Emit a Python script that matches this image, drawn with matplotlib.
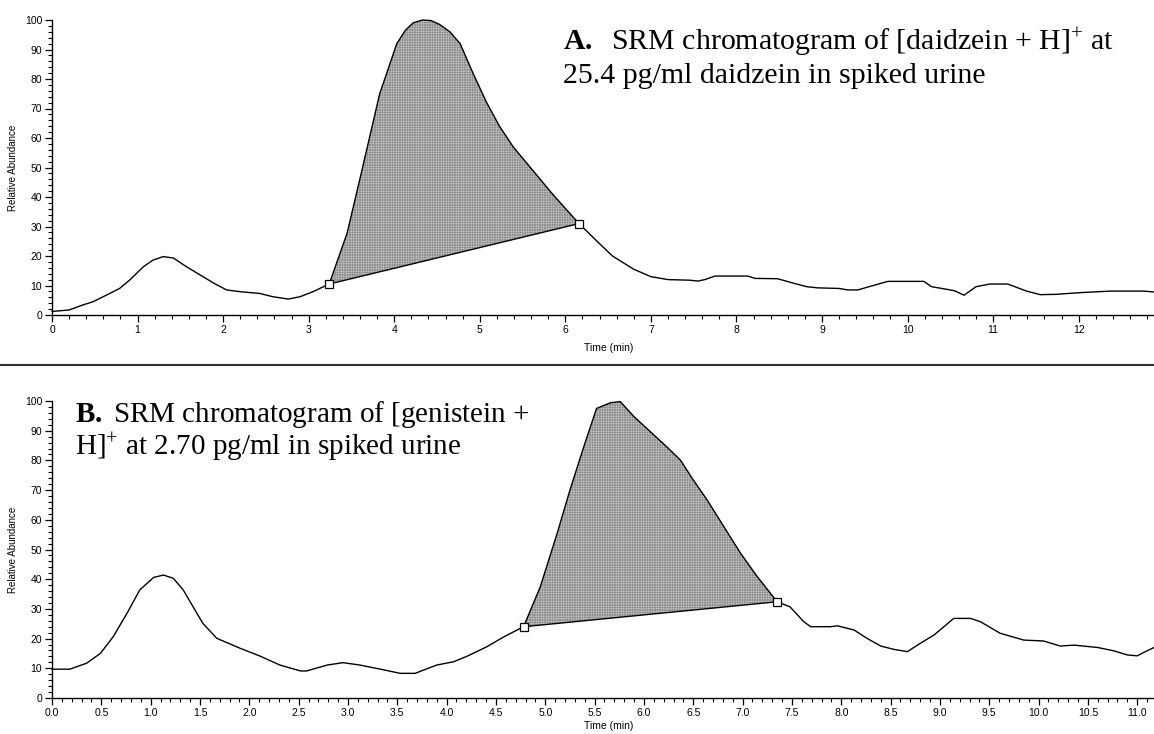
import numpy as np
import matplotlib
matplotlib.use("Agg")
import matplotlib.pyplot as plt
from matplotlib.ticker import MultipleLocator, FormatStrFormatter
from matplotlib.lines import Line2D

# ---------------- data ----------------
top_time = [0.0, 0.2, 0.36, 0.48, 0.64, 0.79, 0.91, 1.07, 1.18, 1.30, 1.42, 1.57, 1.73,
            1.89, 2.04, 2.2, 2.43, 2.58, 2.76, 2.9, 3.05, 3.24, 3.45, 3.63, 3.83, 4.03,
            4.13, 4.22, 4.33, 4.43, 4.53, 4.65, 4.77, 4.92, 5.08, 5.23, 5.39, 5.62, 5.85,
            6.05, 6.16, 6.37,
            6.55, 6.8, 7.0, 7.2, 7.45, 7.55, 7.63, 7.75, 8.13, 8.22, 8.48, 8.64, 8.82,
            8.95, 9.2, 9.3, 9.42, 9.55, 9.72, 9.77, 10.19, 10.28, 10.44, 10.55, 10.66,
            10.8, 10.96, 11.17, 11.39, 11.55, 11.73, 12.03, 12.37, 12.76, 12.88]
top_abund = [1.2, 1.7, 3.4, 4.5, 6.8, 9.0, 11.9, 16.4, 18.6, 19.8, 19.3, 16.4, 13.6,
             10.8, 8.5, 7.9, 7.3, 6.2, 5.4, 6.2, 7.9, 10.5, 27.8, 50, 75, 92,
             96.5, 99, 100, 99.8, 98.5, 96, 92, 82, 72, 64, 57, 49, 41,
             34.5, 31, 25,
             20, 15.5, 13, 12, 11.8, 11.5, 12, 13.2, 13.2, 12.4, 12.3, 11, 9.6,
             9.2, 9.0, 8.5, 8.5, 9.6, 11, 11.4, 11.4, 9.6, 8.8, 8.2, 6.7,
             9.6, 10.5, 10.5, 8.1, 6.9, 7.0, 7.6, 8.1, 8.1, 7.8]
top_peak_start = (3.24, 10.5)
top_peak_end = (6.16, 31.0)

bot_time = [0.0, 0.18, 0.35, 0.49, 0.62, 0.76, 0.89, 1.03, 1.13, 1.23, 1.33, 1.43, 1.53,
            1.67, 1.91, 2.11, 2.31, 2.52, 2.58, 2.79, 2.95, 3.12, 3.33, 3.53, 3.68, 3.9,
            4.07, 4.21, 4.41, 4.58, 4.78, 4.95, 5.12, 5.25, 5.39, 5.52, 5.66, 5.76, 5.90,
            6.1, 6.23, 6.37, 6.5, 6.64, 6.81, 6.98, 7.15, 7.35, 7.48, 7.62, 7.69, 7.89,
            7.96, 8.13, 8.26, 8.4, 8.53, 8.67, 8.8, 8.94, 9.14, 9.31, 9.41, 9.61, 9.85,
            10.05, 10.22, 10.36, 10.6, 10.76, 10.9, 11.0, 11.1, 11.17]
bot_abund = [9.7, 9.7, 11.7, 15, 20.6, 28.5, 36.4, 40.6, 41.4, 40.3, 36.4, 30.7, 25.1,
             20.1, 16.7, 14.1, 11.1, 9.1, 9.1, 11.1, 11.9, 11.1, 9.7, 8.3, 8.3, 11.1,
             12.2, 14.1, 17.3, 20.6, 24.0, 37.5, 55.4, 70, 84.6, 97.5, 99.4, 99.8, 94.7,
             88.6, 84.6, 80.1, 73.4, 66.7, 57.7, 48.7, 40.8, 32.4, 30.7, 25.7, 24, 24,
             24.3, 22.9, 20.1, 17.5, 16.4, 15.6, 18.4, 21.2, 26.8, 26.8, 25.7, 21.8, 19.5,
             19.2, 17.5, 17.8, 17, 15.9, 14.5, 14.2, 15.9, 17]
bot_peak_start = (4.78, 24.0)
bot_peak_end = (7.35, 32.4)

top_xlim = (0, 12.88)
bot_xlim = (0, 11.17)

# ---------------- style ----------------
plt.rcParams['font.family'] = ['Liberation Sans', 'DejaVu Sans']
plt.rcParams['mathtext.fontset'] = 'custom'
plt.rcParams['mathtext.rm'] = 'Liberation Serif'
plt.rcParams['mathtext.it'] = 'Liberation Serif:italic'
plt.rcParams['mathtext.bf'] = 'Liberation Serif:bold'
plt.rcParams['hatch.linewidth'] = 0.4

fig = plt.figure(figsize=(11.54, 7.34), dpi=100)
ax_top = fig.add_axes([52/1154, 1-315/734, 1-52/1154, 295/734])
ax_bot = fig.add_axes([52/1154, 1-698/734, 1-52/1154, 297/734])


def draw(ax, t, a, p0, p1, xlim, xmaj, xmin, fmt, xlab_y):
    t = np.asarray(t, float)
    a = np.asarray(a, float)
    ax.plot(t, a, color='black', lw=1.0, clip_on=False, zorder=3)
    mask = (t > p0[0]) & (t < p1[0])
    xf = np.concatenate([[p0[0]], t[mask], [p1[0]]])
    yf = np.interp(xf, t, a)
    base = np.interp(xf, [p0[0], p1[0]], [p0[1], p1[1]])
    ax.fill_between(xf, base, yf, facecolor='#d2d2d2', edgecolor='#8c8c8c',
                    hatch='+' * 10, lw=0, zorder=2)
    ax.plot([p0[0], p1[0]], [p0[1], p1[1]], color='black', lw=1.0, zorder=3)
    ax.plot([p0[0], p1[0]], [p0[1], p1[1]], ls='none', marker='s', ms=6,
            mfc='white', mec='black', mew=0.9, zorder=4)
    ax.set_xlim(*xlim)
    ax.set_ylim(0, 100)
    for s in ('top', 'right'):
        ax.spines[s].set_visible(False)
    for s in ('left', 'bottom'):
        ax.spines[s].set_linewidth(1.0)
    ax.xaxis.set_major_locator(MultipleLocator(xmaj))
    ax.xaxis.set_minor_locator(MultipleLocator(xmin))
    ax.xaxis.set_major_formatter(FormatStrFormatter(fmt))
    ax.yaxis.set_major_locator(MultipleLocator(10))
    ax.yaxis.set_minor_locator(MultipleLocator(2))
    ax.tick_params(which='major', direction='out', length=5, width=0.9,
                   labelsize=7.5, pad=2)
    ax.tick_params(which='minor', direction='out', length=3, width=0.8)
    ax.set_xlabel('Time (min)', fontsize=7.5)
    ax.xaxis.set_label_coords(0.505, xlab_y)
    ax.set_ylabel('Relative Abundance', fontsize=7)
    ax.yaxis.set_label_coords(-0.031, 0.5)
    ax.patch.set_alpha(0)


draw(ax_top, top_time, top_abund, top_peak_start, top_peak_end, top_xlim,
     1, 0.2, '%d', -0.095)
draw(ax_bot, bot_time, bot_abund, bot_peak_start, bot_peak_end, bot_xlim,
     0.5, 0.1, '%.1f', -0.078)

# separator line
fig.add_artist(Line2D([0, 1], [1-365/734, 1-365/734], color='#333333', lw=1.5,
                      transform=fig.transFigure))

# annotations
fsA = 21.5
fsB = 21
fig.text(563/1154, 1-50/734, r'$\mathbf{A.}$  SRM chromatogram of [daidzein + H]$^{+}$ at',
         fontsize=fsA, family='Liberation Serif', va='baseline', ha='left')
fig.text(563/1154, 1-83/734, '25.4 pg/ml daidzein in spiked urine',
         fontsize=fsA, family='Liberation Serif', va='baseline', ha='left')
fig.text(75/1154, 1-422/734, r'$\mathbf{B.}$ SRM chromatogram of [genistein +',
         fontsize=fsB, family='Liberation Serif', va='baseline', ha='left')
fig.text(75/1154, 1-455/734, r'H]$^{+}$ at 2.70 pg/ml in spiked urine',
         fontsize=fsB, family='Liberation Serif', va='baseline', ha='left')

fig.savefig('out.png', dpi=100)
